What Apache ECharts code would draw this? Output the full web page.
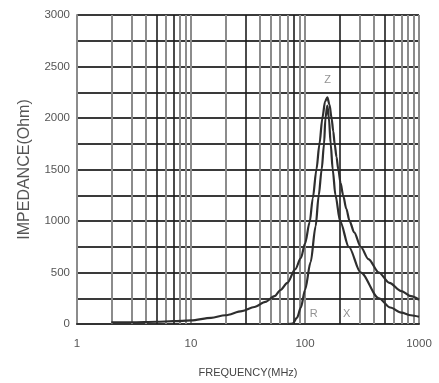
<!DOCTYPE html>
<html>
<head>
<meta charset="utf-8">
<script src="https://cdn.jsdelivr.net/npm/echarts@6/dist/echarts.min.js"></script>
<style>
html,body{margin:0;padding:0;background:#fff;}
#chart{width:439px;height:383px;}
</style>
</head>
<body>
<div id="chart"></div>
<script>
// ---- data ----
const zFreq = [2, 3, 5, 7, 10, 15, 20, 28, 36, 45, 54, 61, 70, 82, 92, 100, 110, 117, 126, 134, 142, 150, 157, 164, 171, 177, 182, 189, 196, 205, 216, 230, 246, 270, 308, 360, 444, 550, 700, 850, 1000];
const zImp  = [15, 17, 22, 27, 35, 60, 85, 125, 165, 215, 270, 330, 400, 530, 640, 780, 990, 1220, 1500, 1750, 2000, 2160, 2200, 2130, 2000, 1870, 1750, 1620, 1500, 1370, 1250, 1120, 1000, 890, 750, 630, 500, 400, 320, 270, 235];
const rFreq = [70, 78, 85, 92, 100, 112, 124, 132, 140, 147, 151, 157, 162, 168, 175, 185, 203, 242, 308, 444, 560, 700, 850, 1000];
const rImp  = [0, 5, 60, 160, 330, 600, 950, 1250, 1500, 1750, 2000, 2120, 2000, 1750, 1500, 1250, 1000, 750, 500, 250, 160, 110, 85, 70];
const curveLabels = ['Z', 'R', 'X'];
const labelFreq = [158, 119, 232];
const labelImp  = [2372, 97, 97];
const minorFreqs = [2,3,4,5,6,7,8,9,20,30,40,50,60,70,80,90,200,300,400,500,600,700,800,900];
const darkFreqs = [5, 7, 30, 80, 200, 500];
const yTickLabels = [0, 500, 1000, 1500, 2000, 2500, 3000];
const xTickLabels = [1, 10, 100, 1000];

const FONT = "'Liberation Sans', Arial, sans-serif";
const pair = (xs, ys) => xs.map((x, i) => [x, ys[i]]);

const chart = echarts.init(document.getElementById('chart'), null, {renderer: 'canvas'});

const minorLines = minorFreqs.map(f => ({
  xAxis: f,
  lineStyle: darkFreqs.includes(f)
    ? {color: '#1e1e1e', width: 1.6, type: 'solid'}
    : {color: '#8c8c8c', width: 2, type: 'solid'}
}));

chart.setOption({
  animation: false,
  backgroundColor: '#fff',
  grid: {left: 77, right: 20, top: 15, bottom: 58, containLabel: false},
  xAxis: {
    type: 'log',
    logBase: 10,
    min: 1,
    max: 1000,
    name: 'FREQUENCY(MHz)',
    nameLocation: 'middle',
    nameGap: 43,
    nameTextStyle: {fontFamily: FONT, fontSize: 11, color: '#444'},
    axisLine: {show: true, lineStyle: {color: '#333', width: 2}},
    axisTick: {show: false},
    axisLabel: {
      fontFamily: FONT, fontSize: 11.5, color: '#555', margin: 14,
      formatter: v => xTickLabels.includes(Math.round(v)) ? String(Math.round(v)) : ''
    },
    splitLine: {show: true, lineStyle: {color: '#8c8c8c', width: 2}}
  },
  yAxis: {
    type: 'value',
    min: 0,
    max: 3000,
    interval: 250,
    name: 'IMPEDANCE(Ohm)',
    nameLocation: 'middle',
    nameGap: 44,
    nameTextStyle: {fontFamily: FONT, fontSize: 16, color: '#555'},
    axisLine: {show: true, lineStyle: {color: '#8c8c8c', width: 2}},
    axisTick: {show: false},
    axisLabel: {
      fontFamily: FONT, fontSize: 11.5, color: '#555', margin: 7,
      formatter: v => yTickLabels.includes(v) ? String(v) : ''
    },
    splitLine: {
      show: true,
      lineStyle: {color: '#3a3a3a', width: 2}
    }
  },
  series: [
    {
      name: 'grid',
      type: 'line',
      data: [],
      silent: true,
      markLine: {
        silent: true,
        symbol: 'none',
        label: {show: false},
        data: minorLines
      }
    },
    {
      name: 'Z',
      type: 'line',
      data: pair(zFreq, zImp),
      showSymbol: false,
      smooth: 0.3,
      smoothMonotone: 'x',
      lineStyle: {color: '#2e2e2e', width: 2.2},
      z: 5
    },
    {
      name: 'R',
      type: 'line',
      data: pair(rFreq, rImp),
      showSymbol: false,
      smooth: 0.3,
      smoothMonotone: 'x',
      lineStyle: {color: '#2e2e2e', width: 2.2},
      z: 5
    },
    {
      name: 'labels',
      type: 'scatter',
      data: curveLabels.map((t, i) => [labelFreq[i], labelImp[i], t]),
      symbolSize: 0,
      label: {
        show: true,
        position: 'inside',
        formatter: p => p.value[2],
        fontFamily: FONT,
        fontSize: 11,
        color: '#777'
      },
      z: 6
    }
  ]
});
</script>
</body>
</html>
